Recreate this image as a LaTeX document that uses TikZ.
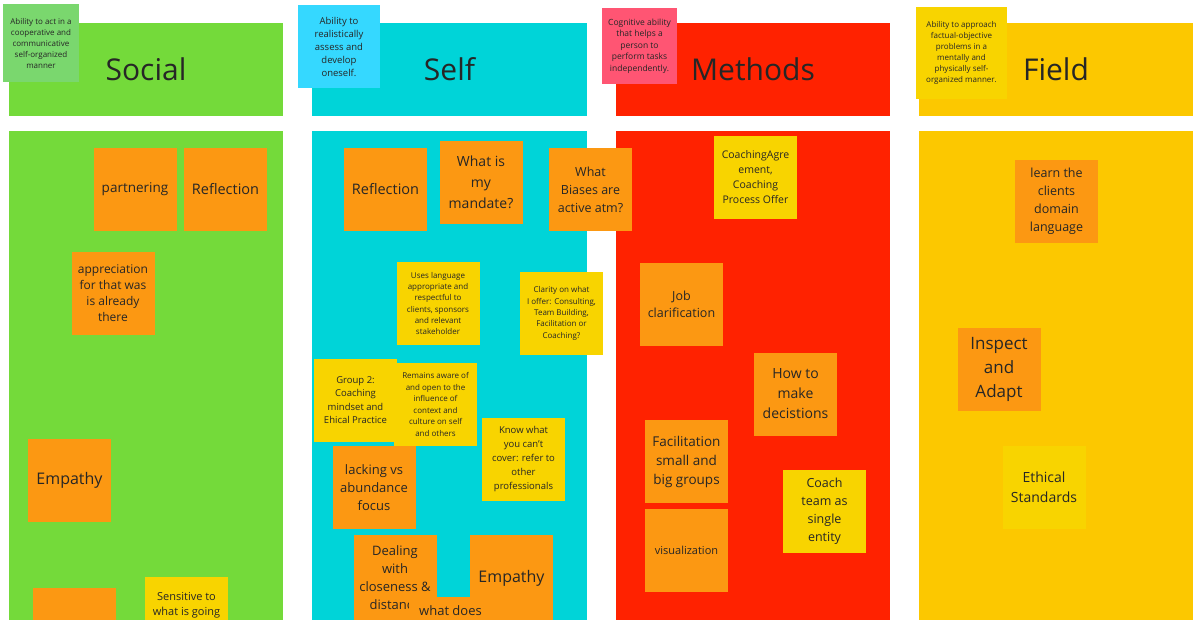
\documentclass[tikz,border=0pt]{standalone}
\usepackage{fontspec}
\setmainfont{Open Sans}
\usepackage{xcolor}
\definecolor{socialgreen}{RGB}{116,218,58}
\definecolor{selfcyan}{RGB}{0,212,216}
\definecolor{methodsred}{RGB}{255,34,0}
\definecolor{fieldyellow}{RGB}{252,200,0}
\definecolor{stickyorange}{RGB}{252,152,18}
\definecolor{stickyyellow}{RGB}{248,212,0}
\definecolor{stickygreen}{RGB}{122,215,110}
\definecolor{stickyblue}{RGB}{53,216,255}
\definecolor{stickypink}{RGB}{255,85,115}
\newcommand{\notefont}[2]{\fontsize{#1}{#2}\selectfont}
\tikzset{
	panel/.style={fill=#1, rectangle, inner sep=0pt, minimum width=274pt, text=black!85, font=\notefont{30}{36}},
	note/.style={fill=#1, rectangle, inner sep=0pt, minimum width=83pt, minimum height=83pt, align=center, text=black!85},
	orangenote/.style={note=stickyorange},
	yellownote/.style={note=stickyyellow}
}

\begin{document}
\begin{tikzpicture}[x=1pt, y={(0,-1pt)}]
			\useasboundingbox (0,0) rectangle (1204,619);
			\clip (0,0) rectangle (1204,619);
			\fill [white] (0,0) rectangle (1204,619);
			% columns
			\node [panel=socialgreen, minimum height=93pt] (socialhead) at (146,69.5) {Social};
			\node [panel=selfcyan, minimum height=93pt, minimum width=275pt] (selfhead) at (449.5,69.5) {Self};
			\node [panel=methodsred, minimum height=93pt] (methodshead) at (753,69.5) {Methods};
			\node [panel=fieldyellow, minimum height=93pt] (fieldhead) at (1056,69.5) {Field};
			\node [panel=socialgreen, minimum height=500pt] (socialbody) at (146,381) {};
			\node [panel=selfcyan, minimum height=500pt, minimum width=275pt] (selfbody) at (449.5,381) {};
			\node [panel=methodsred, minimum height=500pt] (methodsbody) at (753,381) {};
			\node [panel=fieldyellow, minimum height=500pt] (fieldbody) at (1056,381) {};
			% definitions
			\node [note=stickygreen, minimum width=76pt, minimum height=78pt, font=\notefont{8}{11}] (socialdef) at (41,43) {Ability to act in a\\cooperative and\\communicative\\self-organized\\manner};
			\node [note=stickyblue, minimum width=82pt, minimum height=83pt, font=\notefont{9.5}{13}] (selfdef) at (339,46.5) {Ability to\\realistically\\assess and\\develop\\oneself.};
			\node [note=stickypink, minimum width=75pt, minimum height=76pt, font=\notefont{8.5}{11.5}] (methodsdef) at (639.5,46) {Cognitive ability\\that helps a\\person to\\perform tasks\\independently.};
			\node [note=stickyyellow, minimum width=91pt, minimum height=92pt, font=\notefont{8}{11}] (fielddef) at (961.5,53) {Ability to approach\\factual-objective\\problems in a\\mentally and\\physically self-\\organized manner.};
			% social
			\node [orangenote, font=\notefont{13.5}{18}] (partnering) at (135,189.5) {partnering};
			\node [orangenote, font=\notefont{14.5}{19}] (socialreflection) at (225.5,189.5) {Reflection};
			\node [orangenote, font=\notefont{12}{16}] (appreciation) at (113,293.5) {appreciation\\for that was\\is already\\there};
			\node [orangenote, font=\notefont{16}{20}] (socialempathy) at (69.5,480) {Empathy};
			\node [orangenote, minimum height=64pt] (socialblank) at (74,620) {};
			\node [yellownote, minimum height=57pt, font=\notefont{11}{15}] (sensitive) at (186.5,605.5) {Sensitive to\\what is going};
			% self
			\node [orangenote, font=\notefont{14.5}{19}] (selfreflection) at (385.5,189.5) {Reflection};
			\node [orangenote, font=\notefont{14}{21}] (mandate) at (481,182) {What is\\my\\mandate?};
			\node [orangenote, font=\notefont{12.5}{18}] (biases) at (590.5,189.5) {What\\Biases are\\active atm?};
			\node [yellownote, font=\notefont{8}{11.3}] (language) at (438,303.5) {Uses language\\appropriate and\\respectful to\\clients, sponsors\\and relevant\\stakeholder};
			\node [yellownote, font=\notefont{8}{11.3}] (clarity) at (561.5,313.5) {Clarity on what\\I offer: Consulting,\\Team Building,\\Facilitation or\\Coaching?};
			\node [yellownote, font=\notefont{9.5}{13.5}] (group) at (355.5,400) {Group 2:\\Coaching\\mindset and\\Ehical Practice};
			\node [yellownote, font=\notefont{8}{11.5}] (aware) at (435.5,404.5) {Remains aware of\\and open to the\\influence of\\context and\\culture on self\\and others};
			\node [yellownote, font=\notefont{9.5}{14}] (cover) at (523.5,459) {Know what\\you can't\\cover: refer to\\other\\professionals};
			\node [orangenote, font=\notefont{13}{18}] (lacking) at (374,487.5) {lacking vs\\abundance\\focus};
			\node [orangenote, minimum height=86pt, font=\notefont{13}{18}] (closeness) at (395,578) {Dealing\\with\\closeness \&\\distance};
			\node [orangenote, minimum height=86pt, font=\notefont{16}{20}] (selfempathy) at (511.5,578) {Empathy};
			\node [orangenote, minimum height=28pt, font=\notefont{13}{18}] (whatdoes) at (450.5,611) {what does};
			% methods
			\node [yellownote, font=\notefont{10.5}{15}] (agreement) at (755.5,177.5) {CoachingAgre\\ement,\\Coaching\\Process Offer};
			\node [orangenote, font=\notefont{12.5}{17}] (job) at (681.5,304) {Job\\clarification};
			\node [orangenote, font=\notefont{14}{20}] (decisions) at (795.5,394) {How to\\make\\decistions};
			\node [orangenote, font=\notefont{13.5}{19}] (facilitation) at (686.5,461.5) {Facilitation\\small and\\big groups};
			\node [orangenote, font=\notefont{11}{15}] (visualization) at (686.5,550) {visualization};
			\node [yellownote, font=\notefont{12.5}{18}] (team) at (824.5,511) {Coach\\team as\\single\\entity};
			% field
			\node [orangenote, font=\notefont{12.5}{18}] (domain) at (1056.5,201) {learn the\\clients\\domain\\language};
			\node [orangenote, font=\notefont{17}{24}] (inspect) at (999,369) {Inspect\\and\\Adapt};
			\node [yellownote, font=\notefont{14}{20}] (ethical) at (1044,487) {Ethical\\Standards};
		\end{tikzpicture}
\end{document}
